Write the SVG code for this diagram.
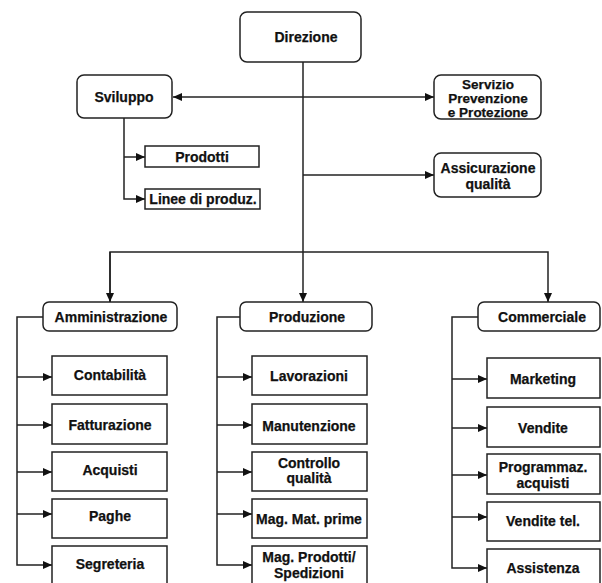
<svg xmlns="http://www.w3.org/2000/svg" width="602" height="583" viewBox="0 0 602 583">
<defs>
<marker id="ah" markerUnits="userSpaceOnUse" markerWidth="10" markerHeight="8" refX="9" refY="4" orient="auto-start-reverse">
<path d="M0,0 L9,4 L0,8 z" fill="#111"/>
</marker>
<style>
.rb{fill:#fff;stroke:#222;stroke-width:1.5}
.sb{fill:#fff;stroke:#222;stroke-width:1.5}
.t{font-family:"Liberation Sans",Arial,sans-serif;font-weight:bold;font-size:14px;fill:#111;stroke:#111;stroke-width:0.25;text-anchor:middle}
.m{font-size:13.5px}
.c{fill:none;stroke:#222;stroke-width:1.5}
</style>
</defs>
<rect width="602" height="583" fill="#fff"/>
<g id="connectors">
<path class="c" d="M303,62 V302" marker-end="url(#ah)"/>
<path class="c" d="M173,97 H434" marker-start="url(#ah)" marker-end="url(#ah)"/>
<path class="c" d="M303,175 H434" marker-end="url(#ah)"/>
<path class="c" d="M124,118 V199 H145" marker-end="url(#ah)"/>
<path class="c" d="M124,157 H145" marker-end="url(#ah)"/>
<path class="c" d="M110,302 V252 H548 V302" marker-end="url(#ah)"/>
<path class="c" d="M110,252 V302" marker-end="url(#ah)"/>
<path class="c" d="M43,317 H17 V565 H52" marker-end="url(#ah)"/>
<path class="c" d="M17,377 H52" marker-end="url(#ah)"/>
<path class="c" d="M17,425 H52" marker-end="url(#ah)"/>
<path class="c" d="M17,472 H52" marker-end="url(#ah)"/>
<path class="c" d="M17,514 H52" marker-end="url(#ah)"/>
<path class="c" d="M240,317 H217 V565 H252" marker-end="url(#ah)"/>
<path class="c" d="M217,377 H252" marker-end="url(#ah)"/>
<path class="c" d="M217,425 H252" marker-end="url(#ah)"/>
<path class="c" d="M217,472 H252" marker-end="url(#ah)"/>
<path class="c" d="M217,514 H252" marker-end="url(#ah)"/>
<path class="c" d="M478,317 H452 V568 H487" marker-end="url(#ah)"/>
<path class="c" d="M452,379 H487" marker-end="url(#ah)"/>
<path class="c" d="M452,428 H487" marker-end="url(#ah)"/>
<path class="c" d="M452,475 H487" marker-end="url(#ah)"/>
<path class="c" d="M452,517 H487" marker-end="url(#ah)"/>
</g>
<g id="direzione"><rect class="rb" x="240" y="12" width="121" height="50" rx="7"/><text class="t" x="306" y="42">Direzione</text></g>
<g id="sviluppo"><rect class="rb" x="77" y="75" width="95" height="43" rx="7"/><text class="t" x="124" y="102">Sviluppo</text></g>
<g id="servizio"><rect class="rb" x="434" y="75" width="107" height="44" rx="7"/><text class="t m" x="488" y="89">Servizio</text><text class="t m" x="488" y="103">Prevenzione</text><text class="t m" x="488" y="117">e Protezione</text></g>
<g id="assicurazione"><rect class="rb" x="434" y="153" width="107" height="44" rx="7"/><text class="t" x="488" y="173">Assicurazione</text><text class="t" x="488" y="189">qualità</text></g>
<g id="prodotti"><rect class="sb" x="145" y="146" width="114" height="21"/><text class="t" x="202" y="162">Prodotti</text></g>
<g id="linee"><rect class="sb" x="145" y="189" width="115" height="20"/><text class="t" x="203" y="204">Linee di produz.</text></g>
<g id="amministrazione"><rect class="rb" x="43" y="302" width="134" height="29" rx="6"/><text class="t" x="111" y="322">Amministrazione</text></g>
<g id="produzione"><rect class="rb" x="240" y="302" width="132" height="29" rx="6"/><text class="t" x="307" y="322">Produzione</text></g>
<g id="commerciale"><rect class="rb" x="478" y="302" width="122" height="29" rx="6"/><text class="t" x="542" y="322">Commerciale</text></g>
<g id="contabilita"><rect class="sb" x="52" y="356" width="115" height="39"/><text class="t" x="110" y="380">Contabilità</text></g>
<g id="fatturazione"><rect class="sb" x="52" y="404" width="115" height="40"/><text class="t" x="110" y="430">Fatturazione</text></g>
<g id="acquisti"><rect class="sb" x="52" y="452" width="115" height="39"/><text class="t" x="110" y="475">Acquisti</text></g>
<g id="paghe"><rect class="sb" x="52" y="499" width="115" height="39"/><text class="t" x="110" y="521">Paghe</text></g>
<g id="segreteria"><rect class="sb" x="52" y="546" width="115" height="45"/><text class="t" x="110" y="569">Segreteria</text></g>
<g id="lavorazioni"><rect class="sb" x="252" y="356" width="115" height="39"/><text class="t" x="309" y="381">Lavorazioni</text></g>
<g id="manutenzione"><rect class="sb" x="252" y="404" width="115" height="40"/><text class="t" x="309" y="431">Manutenzione</text></g>
<g id="controllo"><rect class="sb" x="252" y="452" width="115" height="39"/><text class="t" x="309" y="468">Controllo</text><text class="t" x="309" y="483">qualità</text></g>
<g id="magmat"><rect class="sb" x="252" y="499" width="115" height="39"/><text class="t" x="309" y="524">Mag. Mat. prime</text></g>
<g id="magprod"><rect class="sb" x="252" y="546" width="115" height="45"/><text class="t" x="309" y="562">Mag. Prodotti/</text><text class="t" x="309" y="578">Spedizioni</text></g>
<g id="marketing"><rect class="sb" x="487" y="358" width="113" height="40"/><text class="t" x="543" y="384">Marketing</text></g>
<g id="vendite"><rect class="sb" x="487" y="407" width="113" height="40"/><text class="t" x="543" y="433">Vendite</text></g>
<g id="programmaz"><rect class="sb" x="487" y="454" width="113" height="40"/><text class="t" x="543" y="472">Programmaz.</text><text class="t" x="543" y="488">acquisti</text></g>
<g id="venditetel"><rect class="sb" x="487" y="502" width="113" height="39"/><text class="t" x="543" y="526">Vendite tel.</text></g>
<g id="assistenza"><rect class="sb" x="487" y="549" width="113" height="45"/><text class="t" x="543" y="573">Assistenza</text></g>
</svg>
